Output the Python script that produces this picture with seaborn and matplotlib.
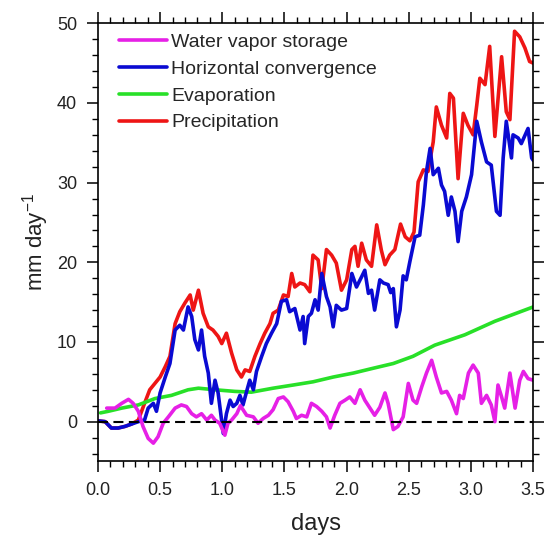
import numpy as np
import pandas as pd
import matplotlib
matplotlib.use("Agg")
import matplotlib.pyplot as plt
import seaborn as sns
from matplotlib.ticker import MultipleLocator

sns.set_style("ticks")
plt.rcParams["font.family"] = ["Liberation Sans", "DejaVu Sans"]

# ---- data (time in hours, values in mm/day) ----
storage_h = [1.7, 3.3, 4.6, 5.9, 6.8, 7.8, 8.7, 9.7, 10.7, 11.6, 12.6, 13.6, 14.9, 16.1, 17.1,
             18.1, 19.0, 20.0, 21.0, 21.9, 22.6, 23.5, 24.5, 25.1, 25.8, 26.8, 27.5, 28.7, 30.0,
             30.9, 31.9, 32.9, 33.8, 34.8, 35.8, 36.7, 37.7, 38.3, 39.3, 40.3, 41.2, 42.2, 43.2,
             44.1, 44.8, 45.7, 46.7, 47.7, 48.6, 49.6, 50.6, 51.5, 52.5, 53.4, 54.4, 55.4, 56.0,
             57.0, 57.9, 58.9, 59.9, 60.8, 61.5, 62.5, 63.4, 64.4, 65.3, 66.3, 67.3, 68.2, 69.2,
             69.8, 70.5, 71.5, 72.4, 73.4, 74.0, 75.0, 75.9, 76.6, 77.2, 77.9, 78.5, 79.5, 80.5,
             81.4, 82.1, 83.0, 84.0]
storage_v = [1.7, 1.7, 2.3, 2.8, 2.3, 1.3, -0.6, -2.1, -2.7, -1.9, -0.2, 0.6, 1.7, 2.1, 1.9,
             1.0, 0.6, 1.0, 0.2, 0.8, 0.2, -0.2, -1.7, -0.2, 0.2, 1.0, 2.0, 0.8, 0.6,
             -0.2, 0.4, 0.8, 1.5, 2.9, 3.1, 2.5, 1.3, 0.4, 0.8, 0.6, 2.3, 1.9, 1.3,
             0.6, -0.8, 0.8, 2.3, 2.7, 3.1, 2.3, 4.0, 2.7, 1.7, 0.8, 1.8, 3.6, 2.3,
             -1.0, -0.6, 0.6, 4.8, 2.7, 2.3, 4.4, 6.1, 7.7, 5.6, 3.6, 3.8, 2.7, 1.0,
             3.3, 2.9, 6.1, 7.1, 6.1, 2.3, 3.3, 2.1, 0.0, 4.6, 3.1, 1.7, 6.1, 1.7,
             5.2, 6.3, 5.4, 5.2]

conv_h = [0.0, 1.4, 2.6, 3.9, 5.2, 6.5, 7.8, 9.0, 9.7, 10.7, 11.3, 12.0, 13.0, 13.9, 14.9,
          15.8, 16.5, 17.4, 18.1, 18.7, 19.4, 20.0, 20.6, 21.3, 21.9, 22.6, 23.2, 24.2, 24.8,
          25.5, 26.1, 26.8, 27.4, 28.0, 28.7, 29.3, 30.0, 30.6, 31.6, 32.5, 33.5, 34.5, 35.4,
          36.4, 37.0, 38.0, 39.0, 39.6, 39.9, 40.6, 41.2, 41.9, 42.5, 43.2, 44.1, 44.8, 45.4,
          46.0, 47.0, 48.0, 49.0, 49.9, 50.9, 51.5, 52.2, 52.8, 53.4, 54.4, 55.1, 56.0, 56.5,
          57.0, 57.6, 58.3, 58.9, 59.5, 60.2, 61.2, 62.1, 62.8, 63.4, 64.1, 64.7, 65.7, 66.3,
          66.9, 67.6, 68.2, 68.9, 69.5, 70.2, 71.1, 72.1, 73.1, 74.0, 75.0, 75.9, 76.9, 77.6,
          78.2, 78.8, 79.8, 80.1, 81.1, 81.7, 83.0, 83.7, 84.0]
conv_v = [0.1, 0.0, -0.8, -0.8, -0.6, -0.3, 0.0, 0.2, 1.7, 2.3, 1.3, 3.6, 5.6, 7.3, 11.5,
          12.1, 11.5, 14.4, 13.2, 10.3, 9.0, 11.5, 8.2, 6.1, 2.3, 5.2, 3.6, -1.5, 1.0,
          2.7, 1.9, 2.3, 3.3, 2.1, 3.8, 5.2, 4.0, 6.3, 8.2, 9.8, 11.1, 12.3, 15.1,
          15.3, 13.8, 14.2, 11.5, 13.2, 9.8, 13.2, 13.6, 15.3, 14.0, 18.6, 15.7, 14.4, 11.9,
          14.6, 14.0, 14.2, 18.6, 16.9, 18.2, 19.0, 16.1, 16.5, 14.0, 17.8, 17.4, 17.2, 16.2,
          16.7, 11.9, 14.0, 18.3, 17.8, 20.1, 23.2, 23.4, 27.2, 31.4, 34.3, 31.0, 31.8, 29.7,
          28.9, 25.9, 28.2, 26.4, 22.6, 26.4, 28.2, 31.0, 37.7, 35.1, 32.6, 32.2, 26.4, 25.9,
          33.1, 37.7, 33.1, 36.0, 35.6, 34.9, 36.8, 33.1, 32.8]

evap_h = [0.5, 2.0, 4.6, 7.8, 11.0, 14.2, 17.4, 19.4, 22.6, 26.4, 29.6, 33.8, 37.7, 41.5,
          45.4, 49.3, 53.1, 57.0, 60.8, 65.0, 70.8, 76.6, 84.0]
evap_v = [1.1, 1.3, 1.7, 2.1, 2.9, 3.3, 4.0, 4.2, 4.0, 3.8, 3.7, 4.2, 4.6, 5.0,
          5.6, 6.1, 6.7, 7.3, 8.2, 9.6, 10.9, 12.6, 14.4]

precip_h = [0.0, 1.4, 2.6, 3.9, 5.2, 6.5, 7.8, 9.0, 10.0, 11.0, 12.0, 13.0, 13.9, 14.9, 15.8,
            16.8, 17.8, 18.4, 19.4, 20.3, 21.3, 22.2, 23.2, 23.9, 24.8, 25.8, 26.8, 27.7,
            28.4, 29.3, 30.3, 31.3, 32.2, 33.2, 33.8, 34.8, 35.8, 36.7, 37.4, 38.0, 39.0,
            39.9, 40.9, 41.5, 42.5, 43.2, 44.1, 45.1, 46.0, 47.0, 48.0, 49.0, 49.6, 50.2,
            50.9, 51.8, 52.8, 53.8, 54.7, 55.4, 56.3, 57.3, 58.4, 59.3, 60.2, 61.0, 61.8,
            62.8, 63.7, 64.7, 65.3, 66.3, 67.3, 67.9, 68.6, 69.5, 70.5, 71.4, 72.4, 73.1,
            73.7, 74.7, 75.6, 76.6, 77.9, 78.8, 79.5, 80.4, 81.4, 82.4, 83.3, 84.0]
precip_v = [0.1, 0.0, -0.8, -0.8, -0.6, -0.3, 0.2, 2.3, 4.0, 4.8, 5.6, 6.9, 8.2, 12.3, 13.8,
            14.9, 15.9, 14.0, 16.5, 13.6, 11.9, 11.5, 10.7, 9.8, 11.1, 8.6, 6.5, 5.6,
            6.5, 6.3, 8.2, 9.8, 11.1, 12.3, 13.6, 14.0, 15.9, 15.7, 18.6, 16.9, 17.4,
            17.2, 16.3, 20.9, 20.3, 16.7, 21.6, 20.9, 19.9, 16.5, 17.8, 21.6, 22.0, 19.5,
            22.4, 20.3, 19.5, 24.7, 21.5, 19.7, 20.9, 21.6, 24.8, 23.2, 22.7, 23.8, 30.1,
            31.6, 31.4, 35.1, 39.5, 37.2, 35.6, 41.2, 40.6, 30.5, 38.7, 37.2, 36.0, 39.7,
            43.1, 42.3, 47.1, 35.8, 45.8, 38.9, 37.9, 49.0, 48.3, 46.9, 45.2, 45.0]

names = ["Water vapor storage", "Horizontal convergence", "Evaporation", "Precipitation"]
colors = ["#e620e6", "#0a0ad2", "#28e028", "#ee1515"]
hours = [storage_h, conv_h, evap_h, precip_h]
values = [storage_v, conv_v, evap_v, precip_v]

x_ticks = [0.0, 0.5, 1.0, 1.5, 2.0, 2.5, 3.0, 3.5]
y_ticks = [0, 10, 20, 30, 40, 50]

fig = plt.figure(figsize=(5.5, 5.39), dpi=100)
ax = fig.add_axes([0.178, 0.1438, 0.7915, 0.813])

# draw precipitation first, storage last (on top)
for i in [3, 2, 1, 0]:
    df = pd.DataFrame({"days": np.array(hours[i]) / 24.0, "value": values[i]})
    sns.lineplot(data=df, x="days", y="value", color=colors[i], lw=2.6,
                 estimator=None, sort=False, ax=ax, label=names[i],
                 solid_joinstyle="round", solid_capstyle="round")

ax.axhline(0, color="black", lw=1.5, ls=(0, (4.8, 2.6)), zorder=5)

ax.set_xlim(0, 3.5)
ax.set_ylim(-5, 50)
ax.set_xticks(x_ticks)
ax.set_xticklabels([f"{t:.1f}" for t in x_ticks])
ax.set_yticks(y_ticks)
ax.xaxis.set_minor_locator(MultipleLocator(0.1))
ax.yaxis.set_minor_locator(MultipleLocator(2))
ax.tick_params(which="both", direction="out", top=True, right=True,
               labeltop=False, labelright=False, color="black")
ax.tick_params(which="major", length=8, width=1.1, labelsize=13, pad=7, labelcolor="#222222")
ax.tick_params(which="minor", length=4.5, width=1.0)
for s in ax.spines.values():
    s.set_linewidth(1.2)
    s.set_color("black")

ax.set_xlabel("days", fontsize=17, labelpad=10, color="#222222")
ax.set_ylabel(r"mm day$^{\mathregular{-1}}$", fontsize=16, labelpad=4, color="#222222")

h, l = ax.get_legend_handles_labels()
order = [l.index(n) for n in names]
ax.legend([h[k] for k in order], [l[k] for k in order], loc="upper left",
          bbox_to_anchor=(0.025, 1.0), frameon=False, fontsize=14,
          handlelength=2.5, handletextpad=0.2, labelspacing=0.48,
          borderpad=0.3, borderaxespad=0.2)

fig.savefig("out.png", dpi=100)
